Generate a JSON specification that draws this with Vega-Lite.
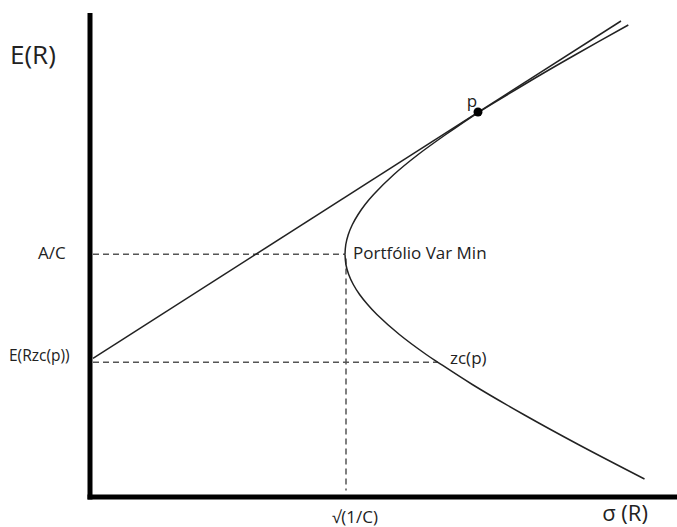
{
  "$schema": "https://vega.github.io/schema/vega-lite/v6.json",
  "width": 587.5,
  "height": 481.5,
  "autosize": {"type": "none"},
  "padding": {"left": 89.5, "top": 15, "right": 0, "bottom": 30.5},
  "background": "white",
  "config": {
    "view": {"stroke": null},
    "font": "Open Sans",
    "axis": {"domainColor": "#000000", "domainWidth": 5, "domainCap": "square", "ticks": false, "labels": false, "grid": false, "title": null}
  },
  "datasets": {
    "frontier": [
      {"branch": "upper", "sigma": 255.5, "er": 242.2},
      {"branch": "upper", "sigma": 256.3, "er": 252},
      {"branch": "upper", "sigma": 258.8, "er": 262},
      {"branch": "upper", "sigma": 262.9, "er": 272},
      {"branch": "upper", "sigma": 268.6, "er": 282},
      {"branch": "upper", "sigma": 275.6, "er": 292},
      {"branch": "upper", "sigma": 284.1, "er": 302},
      {"branch": "upper", "sigma": 304.4, "er": 322},
      {"branch": "upper", "sigma": 328.7, "er": 342},
      {"branch": "upper", "sigma": 356.3, "er": 362},
      {"branch": "upper", "sigma": 389.5, "er": 384.5},
      {"branch": "upper", "sigma": 418.2, "er": 402},
      {"branch": "upper", "sigma": 451.6, "er": 422},
      {"branch": "upper", "sigma": 486.3, "er": 442},
      {"branch": "upper", "sigma": 538.8, "er": 471.5},
      {"branch": "lower", "sigma": 255.5, "er": 242.2},
      {"branch": "lower", "sigma": 256.4, "er": 232},
      {"branch": "lower", "sigma": 259.2, "er": 222},
      {"branch": "lower", "sigma": 263.8, "er": 212},
      {"branch": "lower", "sigma": 270.1, "er": 202},
      {"branch": "lower", "sigma": 278.1, "er": 192},
      {"branch": "lower", "sigma": 287.4, "er": 182},
      {"branch": "lower", "sigma": 309.9, "er": 162},
      {"branch": "lower", "sigma": 336.7, "er": 142},
      {"branch": "lower", "sigma": 348.4, "er": 134.2},
      {"branch": "lower", "sigma": 382.8, "er": 112},
      {"branch": "lower", "sigma": 434.1, "er": 82},
      {"branch": "lower", "sigma": 488.8, "er": 52},
      {"branch": "lower", "sigma": 555.0, "er": 17.5}
    ],
    "tangent": [
      {"sigma": 3.5, "er": 138.2},
      {"sigma": 531.5, "er": 475.5}
    ],
    "guides": [
      {"name": "A/C", "x1": 3.5, "x2": 255.5, "y1": 242.2, "y2": 242.2},
      {"name": "sqrt", "x1": 256.5, "x2": 256.5, "y1": 238, "y2": 6},
      {"name": "zc", "x1": 3.5, "x2": 348.5, "y1": 134.2, "y2": 134.2}
    ],
    "point": [{"sigma": 388.5, "er": 384.5}],
    "smallLeft": [
      {"label": "A/C", "sigma": -51.5, "er": 242.2},
      {"label": "Portfólio Var Min", "sigma": 263.5, "er": 242.2},
      {"label": "zc(p)", "sigma": 360.5, "er": 137.5}
    ],
    "zcLabel": [
      {"label": "E(Rzc(p))", "sigma": -80.5, "er": 140.5}
    ],
    "smallCenter": [
      {"label": "√(1/C)", "sigma": 265.5, "er": -21},
      {"label": "p", "sigma": 382.5, "er": 395}
    ],
    "bigLeft": [
      {"label": "E(R)", "sigma": -79.5, "er": 440.5}
    ],
    "bigCenter": [
      {"label": "σ (R)", "sigma": 535.5, "er": -17.5}
    ]
  },
  "layer": [
    {
      "data": {"name": "guides"},
      "mark": {"type": "rule", "color": "#555555", "strokeWidth": 1.5, "strokeDash": [6, 4]},
      "encoding": {
        "x": {"field": "x1", "type": "quantitative", "scale": {"domain": [0, 587.5], "nice": false, "zero": false}, "axis": {"orient": "bottom"}},
        "x2": {"field": "x2"},
        "y": {"field": "y1", "type": "quantitative", "scale": {"domain": [0, 481.5], "nice": false, "zero": false}, "axis": {"orient": "left"}},
        "y2": {"field": "y2"}
      }
    },
    {
      "data": {"name": "frontier"},
      "mark": {"type": "line", "color": "#222222", "strokeWidth": 1.5, "interpolate": "catmull-rom"},
      "encoding": {
        "x": {"field": "sigma", "type": "quantitative"},
        "y": {"field": "er", "type": "quantitative"},
        "detail": {"field": "branch"},
        "order": {"field": "er"}
      }
    },
    {
      "data": {"name": "tangent"},
      "mark": {"type": "line", "color": "#222222", "strokeWidth": 1.5},
      "encoding": {
        "x": {"field": "sigma", "type": "quantitative"},
        "y": {"field": "er", "type": "quantitative"}
      }
    },
    {
      "data": {"name": "point"},
      "mark": {"type": "point", "filled": true, "color": "#000000", "size": 80, "opacity": 1},
      "encoding": {
        "x": {"field": "sigma", "type": "quantitative"},
        "y": {"field": "er", "type": "quantitative"}
      }
    },
    {
      "data": {"name": "smallLeft"},
      "mark": {"type": "text", "align": "left", "baseline": "middle", "fontSize": 17, "color": "#222222"},
      "encoding": {
        "x": {"field": "sigma", "type": "quantitative"},
        "y": {"field": "er", "type": "quantitative"},
        "text": {"field": "label"}
      }
    },
    {
      "data": {"name": "zcLabel"},
      "mark": {"type": "text", "align": "left", "baseline": "middle", "fontSize": 15.5, "color": "#222222"},
      "encoding": {
        "x": {"field": "sigma", "type": "quantitative"},
        "y": {"field": "er", "type": "quantitative"},
        "text": {"field": "label"}
      }
    },
    {
      "data": {"name": "smallCenter"},
      "mark": {"type": "text", "align": "center", "baseline": "middle", "fontSize": 17, "color": "#222222"},
      "encoding": {
        "x": {"field": "sigma", "type": "quantitative"},
        "y": {"field": "er", "type": "quantitative"},
        "text": {"field": "label"}
      }
    },
    {
      "data": {"name": "bigLeft"},
      "mark": {"type": "text", "align": "left", "baseline": "middle", "fontSize": 26, "color": "#222222"},
      "encoding": {
        "x": {"field": "sigma", "type": "quantitative"},
        "y": {"field": "er", "type": "quantitative"},
        "text": {"field": "label"}
      }
    },
    {
      "data": {"name": "bigCenter"},
      "mark": {"type": "text", "align": "center", "baseline": "middle", "fontSize": 22, "color": "#222222"},
      "encoding": {
        "x": {"field": "sigma", "type": "quantitative"},
        "y": {"field": "er", "type": "quantitative"},
        "text": {"field": "label"}
      }
    }
  ]
}
